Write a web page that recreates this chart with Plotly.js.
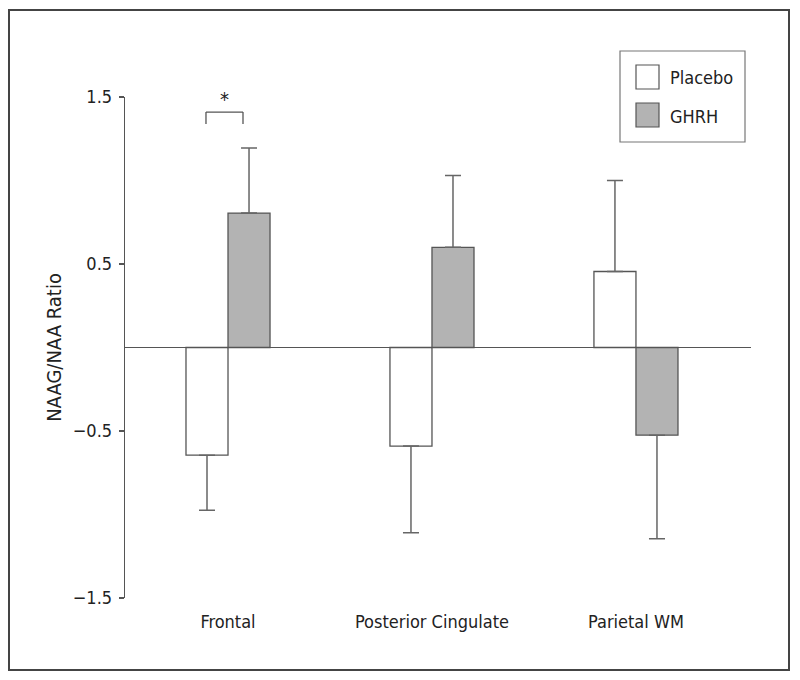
<!DOCTYPE html>
<html>
<head>
<meta charset="utf-8">
<script src="https://cdn.plot.ly/plotly-3.0.1.min.js"></script>
<style>
  html, body { margin: 0; padding: 0; background: #fff; }
  #chart { width: 800px; height: 680px; }
</style>
</head>
<body>
<div id="chart"></div>
<script>
// ---- data ----
const regions = ["Frontal", "Posterior Cingulate", "Parietal WM"];
const seriesNames = ["Placebo", "GHRH"];
const placeboMean = [-0.645, -0.59, 0.455];
const placeboErr  = [0.33, 0.52, 0.545];
const ghrhMean    = [0.805, 0.60, -0.525];
const ghrhErr     = [0.39, 0.43, 0.62];
const yTicks = [-1.5, -0.5, 0.5, 1.5];
const yTickText = ["\u22121.5", "\u22120.5", "0.5", "1.5"];
const yTitle = "NAAG/NAA Ratio";
const sigLabel = "*";

// ---- styling ----
const FONT = '"DejaVu Sans Condensed", "Liberation Sans Narrow", Roboto, sans-serif';
const FS = 18;
const TXT = "#222";
const EDGE = "#555";
const GRAY = "#b3b3b3";

function errUp(m, e) { return m.map((v, i) => v >= 0 ? e[i] : 0); }
function errDown(m, e) { return m.map((v, i) => v < 0 ? e[i] : 0); }

function barTrace(name, means, errs, color) {
  return {
    type: "bar",
    name: name,
    x: regions,
    y: means,
    marker: { color: color, line: { color: EDGE, width: 1.3 } },
    error_y: {
      type: "data", symmetric: false,
      array: errUp(means, errs), arrayminus: errDown(means, errs),
      color: "#666", thickness: 1.5, width: 8
    },
    showlegend: false,
    hoverinfo: "skip"
  };
}

const traces = [
  barTrace(seriesNames[0], placeboMean, placeboErr, "#ffffff"),
  barTrace(seriesNames[1], ghrhMean, ghrhErr, GRAY)
];

// pixel -> paper helpers
const plotL = 125, plotR = 751, plotT = 97, plotB = 598;
const px2x = p => (p - plotL) / (plotR - plotL);
const py2y = p => (plotB - p) / (plotB - plotT);

const legSq = [
  { x0: 636, x1: 659, y0: 65, y1: 89, fill: "#ffffff", label: seriesNames[0], ty: 77 },
  { x0: 636, x1: 659, y0: 103, y1: 127, fill: GRAY, label: seriesNames[1], ty: 116 }
];

const shapes = [
  // outer frame
  { type: "rect", xref: "paper", yref: "paper", x0: px2x(9), x1: px2x(789), y0: py2y(670), y1: py2y(10),
    line: { color: "#444", width: 2 }, fillcolor: "rgba(0,0,0,0)" },
  // legend box
  { type: "rect", xref: "paper", yref: "paper", x0: px2x(620), x1: px2x(745), y0: py2y(142), y1: py2y(51),
    line: { color: "#777", width: 1.2 }, fillcolor: "rgba(0,0,0,0)" },
  // significance bracket
  { type: "line", xref: "x", yref: "y", x0: -0.108, x1: -0.108, y0: 1.338, y1: 1.41, line: { color: EDGE, width: 1.3 } },
  { type: "line", xref: "x", yref: "y", x0: -0.108, x1: 0.0735, y0: 1.41, y1: 1.41, line: { color: EDGE, width: 1.3 } },
  { type: "line", xref: "x", yref: "y", x0: 0.0735, x1: 0.0735, y0: 1.338, y1: 1.41, line: { color: EDGE, width: 1.3 } }
];
legSq.forEach(s => shapes.push({
  type: "rect", xref: "paper", yref: "paper", x0: px2x(s.x0), x1: px2x(s.x1), y0: py2y(s.y1), y1: py2y(s.y0),
  line: { color: EDGE, width: 1.2 }, fillcolor: s.fill
}));

const annotations = legSq.map(s => ({
  xref: "paper", yref: "paper", x: px2x(668), y: py2y(s.ty), xanchor: "left", yanchor: "middle",
  text: s.label, showarrow: false, font: { family: FONT, size: FS, color: TXT }
}));
annotations.push({
  xref: "x", yref: "y", x: -0.015, y: 1.49, xanchor: "center", yanchor: "middle",
  text: sigLabel, showarrow: false, font: { family: FONT, size: 20, color: TXT }
});

const layout = {
  width: 800, height: 680,
  margin: { l: plotL, r: 800 - plotR, t: plotT, b: 680 - plotB },
  paper_bgcolor: "#fff", plot_bgcolor: "#fff",
  barmode: "group", bargap: 0.588, bargroupgap: 0,
  font: { family: FONT, color: TXT, size: FS },
  xaxis: {
    type: "category", range: [-0.505, 2.564],
    showline: false, showgrid: false, zeroline: false, ticks: "",
    ticklabelstandoff: 11,
    tickfont: { family: FONT, size: FS, color: TXT }
  },
  yaxis: {
    range: [-1.5, 1.5], tickvals: yTicks, ticktext: yTickText,
    showline: true, linecolor: EDGE, linewidth: 1.3,
    ticks: "outside", ticklen: 5, tickcolor: EDGE, tickwidth: 1.2,
    ticklabelstandoff: 3,
    showgrid: false, zeroline: true, zerolinecolor: EDGE, zerolinewidth: 1.3,
    tickfont: { family: FONT, size: FS, color: TXT },
    title: { text: yTitle, font: { family: FONT, size: 20, color: TXT }, standoff: 5 }
  },
  shapes: shapes,
  annotations: annotations,
  showlegend: false
};

Plotly.newPlot("chart", traces, layout, { displayModeBar: false, staticPlot: true });
</script>
</body>
</html>
